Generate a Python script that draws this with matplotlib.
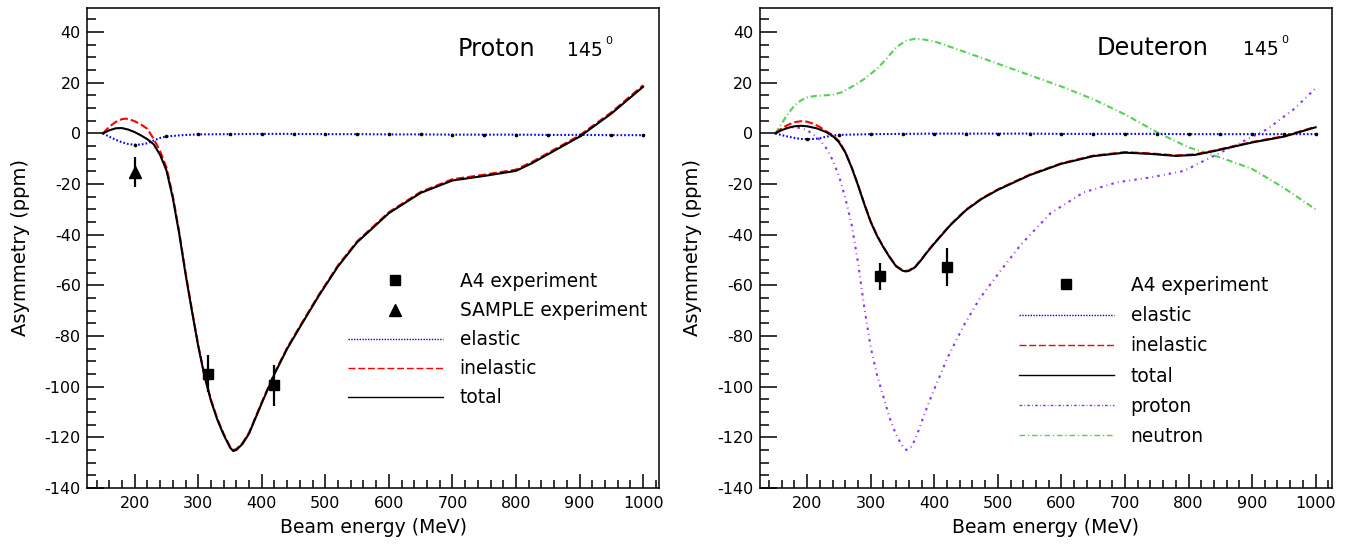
import numpy as np
import matplotlib
matplotlib.use("Agg")
import matplotlib.pyplot as plt
from matplotlib.lines import Line2D
from matplotlib.ticker import MultipleLocator

plt.rcParams['font.family'] = ['DejaVu Sans']
plt.rcParams['axes.unicode_minus'] = False

W, H = 1351, 544

# ---------------- Proton panel ----------------
p_el_E = [150, 160, 170, 180, 190, 200, 210, 220, 230, 240, 250, 275, 300, 350, 400, 450, 500,
          550, 600, 650, 700, 750, 800, 850, 900, 950, 1000]
p_el_A = [0, -1.3, -2.5, -3.5, -4.2, -4.5, -4.4, -3.9, -2.8, -1.8, -1.2, -0.7, -0.4, -0.3, -0.2, -0.2, -0.3,
          -0.3, -0.4, -0.4, -0.5, -0.5, -0.5, -0.6, -0.6, -0.7, -0.7]

p_in_E = [150, 160, 170, 180, 185, 190, 200, 210, 220, 230, 240, 250, 260, 270, 280, 290, 300, 310, 320,
          330, 340, 350, 355, 360, 370, 380, 400, 420, 440, 460, 490, 520, 550, 600, 650, 700, 750,
          800, 825, 850, 900, 950, 1000]
p_in_A = [0, 2.6, 4.5, 5.6, 5.8, 5.7, 4.8, 3.5, 1.8, -2.2, -7.0, -13.4, -24.6, -38.8, -54.8, -69.5, -83.6,
          -95.6, -105.1, -112.6, -118.6, -123.6, -125.0, -124.6, -122.1, -118.1, -106.1, -94.6, -84.6,
          -76.1, -63.6, -52.1, -42.6, -31.1, -23.1, -18.1, -16.3, -14.3, -11.3, -7.8, -0.8, 8.3, 19.0]

p_tot_E = [150, 160, 170, 180, 190, 200, 210, 220, 230, 240, 250, 260, 270, 280, 290, 300, 310, 320, 330,
           340, 350, 355, 360, 370, 380, 400, 420, 440, 460, 490, 520, 550, 600, 650, 700, 750, 800,
           825, 850, 900, 950, 1000]
p_tot_A = [0, 1.2, 2.0, 2.1, 1.5, 0.5, -0.8, -2.3, -4.3, -8.5, -14.6, -25.5, -39.5, -55.5, -70.0, -84.0,
           -96.0, -105.5, -113.0, -119.0, -124.0, -125.4, -125.0, -122.5, -118.5, -106.5, -95.0, -85.0,
           -76.5, -64.0, -52.5, -43.0, -31.5, -23.5, -18.6, -16.8, -14.8, -11.8, -8.3, -1.3, 7.8, 18.4]

p_a4_E = [315, 420]
p_a4_A = [-94.8, -99.5]
p_a4_err = [7.4, 8.2]
p_sample_E = [200]
p_sample_A = [-15.3]
p_sample_err = [5.8]

# ---------------- Deuteron panel ----------------
d_el_E = [150, 160, 170, 180, 190, 200, 210, 220, 230, 240, 250, 300, 350, 400, 450, 500, 550, 600,
          650, 700, 750, 800, 850, 900, 950, 1000]
d_el_A = [0, -0.7, -1.3, -1.8, -2.2, -2.3, -2.2, -1.9, -1.3, -0.9, -0.6, -0.3, -0.2, -0.1, -0.1, -0.1,
          -0.1, -0.2, -0.2, -0.2, -0.2, -0.3, -0.3, -0.3, -0.3, -0.3]

d_in_E = [150, 160, 170, 180, 190, 200, 210, 220, 230, 240, 250, 260, 270, 280, 290, 300, 310, 320, 330,
          340, 350, 355, 360, 370, 380, 390, 400, 425, 450, 475, 500, 550, 600, 650, 700, 740, 780,
          810, 840, 870, 900, 950, 1000]
d_in_A = [0, 2.0, 3.4, 4.4, 4.8, 4.6, 3.8, 2.5, 0.8, -0.6, -3.0, -7.3, -13.3, -20.3, -27.8, -34.8, -40.3,
          -44.8, -48.8, -52.3, -54.0, -54.3, -54.1, -52.6, -49.6, -46.3, -43.3, -36.1, -30.1, -25.6,
          -22.1, -16.3, -11.8, -8.8, -7.4, -7.9, -8.7, -8.3, -6.8, -5.1, -3.4, -1.1, 2.6]

d_tot_E = [150, 160, 170, 180, 190, 200, 215, 230, 240, 250, 260, 270, 280, 290, 300, 310, 320, 330, 340,
           350, 355, 360, 370, 380, 390, 400, 425, 450, 475, 500, 550, 600, 650, 700, 740, 780, 810,
           840, 870, 900, 950, 1000]
d_tot_A = [0, 1.3, 2.2, 2.8, 3.0, 2.8, 2.0, 0.5, -1.0, -3.5, -7.5, -13.5, -20.5, -28.0, -35.0, -40.5,
           -45.0, -49.0, -52.5, -54.2, -54.5, -54.3, -52.8, -49.8, -46.5, -43.5, -36.3, -30.3, -25.8,
           -22.3, -16.5, -12.0, -9.0, -7.6, -8.1, -8.9, -8.5, -7.0, -5.3, -3.6, -1.3, 2.4]

d_pr_E = [150, 160, 170, 180, 190, 200, 210, 220, 230, 240, 250, 260, 270, 280, 290, 300, 310, 320, 330,
          340, 350, 356, 365, 375, 385, 395, 420, 446, 472, 505, 536, 583, 635, 688, 740, 793, 830,
          872, 924, 966, 1000]
d_pr_A = [0, 1.5, 2.2, 2.4, 2.1, 1.2, -0.5, -2.6, -5.8, -10.5, -16.8, -25.5, -36.0, -51.0, -69.0, -84.5,
          -95.5, -104.0, -112.5, -119.0, -123.5, -125.0, -123.5, -117.5, -110.5, -104.0, -89.0, -76.0,
          -65.0, -54.0, -44.0, -31.5, -23.3, -19.3, -17.4, -14.8, -10.1, -4.9, 1.7, 9.6, 17.8]

d_ne_E = [150, 160, 170, 180, 190, 200, 210, 225, 240, 255, 273, 290, 310, 325, 340, 355, 370, 385, 404,
          450, 500, 550, 600, 650, 700, 750, 800, 850, 900, 950, 1000]
d_ne_A = [0, 4.0, 7.8, 11.0, 13.0, 14.2, 14.7, 15.0, 15.2, 16.3, 18.8, 21.5, 25.5, 29.5, 34.0, 36.5, 37.4,
          37.0, 36.0, 32.0, 27.5, 23.0, 18.5, 13.5, 7.5, 0.5, -5.5, -9.5, -14.0, -21.5, -30.0]

d_a4_E = [315, 420]
d_a4_A = [-56.4, -52.9]
d_a4_err = [5.4, 7.5]

xlim = (125, 1025)
ylim = (-140, 49.5)

C_EL = '#0000ff'
C_IN = '#ff0000'
C_TOT = '#000000'
C_PR = '#9030ff'
C_NE = '#55d055'

DASH_EL = (0.8, 1.0)
DASH_IN = (3.8, 1.5)
DASH_PR = (1.2, 2.0, 0.4, 2.0)
DASH_NE = (3.0, 1.4, 0.5, 1.4)

fig = plt.figure(figsize=(W / 100, H / 100), dpi=100)
ax1 = fig.add_axes([87 / W, 1 - 488 / H, 572 / W, 480 / H])
ax2 = fig.add_axes([759.5 / W, 1 - 488 / H, 572 / W, 480 / H])


def style_axes(ax):
    ax.set_xlim(*xlim)
    ax.set_ylim(*ylim)
    ax.xaxis.set_major_locator(MultipleLocator(100))
    ax.xaxis.set_minor_locator(MultipleLocator(20))
    ax.yaxis.set_major_locator(MultipleLocator(20))
    ax.yaxis.set_minor_locator(MultipleLocator(5))
    ax.tick_params(axis='x', which='major', direction='in', length=10, width=1.1, pad=6,
                   labelsize=11.5, top=False)
    ax.tick_params(axis='x', which='minor', direction='in', length=5.5, width=1.1, top=False)
    ax.tick_params(axis='y', which='major', direction='in', length=12.5, width=1.1, pad=4.5,
                   labelsize=11.5, right=False)
    ax.tick_params(axis='y', which='minor', direction='in', length=6.2, width=1.1, right=False)
    for s in ax.spines.values():
        s.set_linewidth(1.1)
    ax.set_xlabel('Beam energy (MeV)', fontsize=13.5)
    ax.set_ylabel('Asymmetry (ppm)', fontsize=14)
    ax.xaxis.set_label_coords(0.5, -0.083)
    ax.yaxis.set_label_coords(-0.117, 0.5)
    ax.xaxis.label.set_va('center')
    ax.yaxis.label.set_va('center')


def dots(ax, E, A):
    E = np.asarray(E)
    A = np.asarray(A)
    m = (E % 50 == 0) & (E > 150)
    ax.plot(E[m], A[m], ls='none', marker='o', ms=1.6, color='k', zorder=5)


for ax in (ax1, ax2):
    style_axes(ax)

# Proton panel curves
ax1.plot(p_el_E, p_el_A, color=C_EL, lw=1.5, dashes=DASH_EL)
ax1.plot(p_in_E, p_in_A, color=C_IN, lw=1.5, dashes=DASH_IN)
ax1.plot(p_tot_E, p_tot_A, color=C_TOT, lw=1.5)
dots(ax1, p_el_E, p_el_A)
ax1.errorbar(p_a4_E, p_a4_A, yerr=p_a4_err, fmt='s', color='k', ms=7, elinewidth=1.6, capsize=0)
ax1.errorbar(p_sample_E, p_sample_A, yerr=p_sample_err, fmt='^', color='k', ms=9,
             elinewidth=1.6, capsize=0)

# Deuteron panel curves
ax2.plot(d_ne_E, d_ne_A, color=C_NE, lw=1.5, dashes=DASH_NE)
ax2.plot(d_pr_E, d_pr_A, color=C_PR, lw=1.5, dashes=DASH_PR)
ax2.plot(d_el_E, d_el_A, color=C_EL, lw=1.5, dashes=DASH_EL)
ax2.plot(d_in_E, d_in_A, color=C_IN, lw=1.5, dashes=DASH_IN)
ax2.plot(d_tot_E, d_tot_A, color=C_TOT, lw=1.5)
dots(ax2, d_el_E, d_el_A)
ax2.errorbar(d_a4_E, d_a4_A, yerr=d_a4_err, fmt='s', color='k', ms=7, elinewidth=1.6, capsize=0)

# Legends
h_a4 = Line2D([], [], ls='none', marker='s', color='k', ms=7)
h_sample = Line2D([], [], ls='none', marker='^', color='k', ms=9)
h_el = Line2D([], [], color=C_EL, lw=1.0, dashes=(1, 1))
h_in = Line2D([], [], color=C_IN, lw=1.0, dashes=(5, 2))
h_tot = Line2D([], [], color=C_TOT, lw=1.0)
h_pr = Line2D([], [], color=C_PR, lw=1.0, dashes=(2, 1.5, 0.6, 1.5))
h_ne = Line2D([], [], color=C_NE, lw=1.0, dashes=(4, 2, 1, 2))

leg_kw = dict(frameon=False, loc='upper left', fontsize=13.4, handlelength=5.1,
              handletextpad=0.9, borderpad=0, borderaxespad=0, numpoints=1)
ax1.legend([h_a4, h_sample, h_el, h_in, h_tot],
           ['A4 experiment', 'SAMPLE experiment', 'elastic', 'inelastic', 'total'],
           bbox_to_anchor=((348 - 87) / 572, (488 - 272) / 480), labelspacing=0.54, **leg_kw)
ax2.legend([h_a4, h_el, h_in, h_tot, h_pr, h_ne],
           ['A4 experiment', 'elastic', 'inelastic', 'total', 'proton', 'neutron'],
           bbox_to_anchor=((1019 - 759.5) / 572, (488 - 276) / 480), labelspacing=0.6, **leg_kw)

# Titles
def ftext(x, y, s, **kw):
    fig.text(x / W, 1 - y / H, s, va='baseline', ha='left', **kw)

ftext(458, 56, 'Proton', fontsize=17.3)
ftext(567, 56, '145', fontsize=13.5)
ftext(605, 44, '0', fontsize=8)
ftext(1097, 55, 'Deuteron', fontsize=17.3)
ftext(1243, 55, '145', fontsize=13.5)
ftext(1281, 43, '0', fontsize=8)

fig.savefig('out.png', dpi=100, facecolor='white')
